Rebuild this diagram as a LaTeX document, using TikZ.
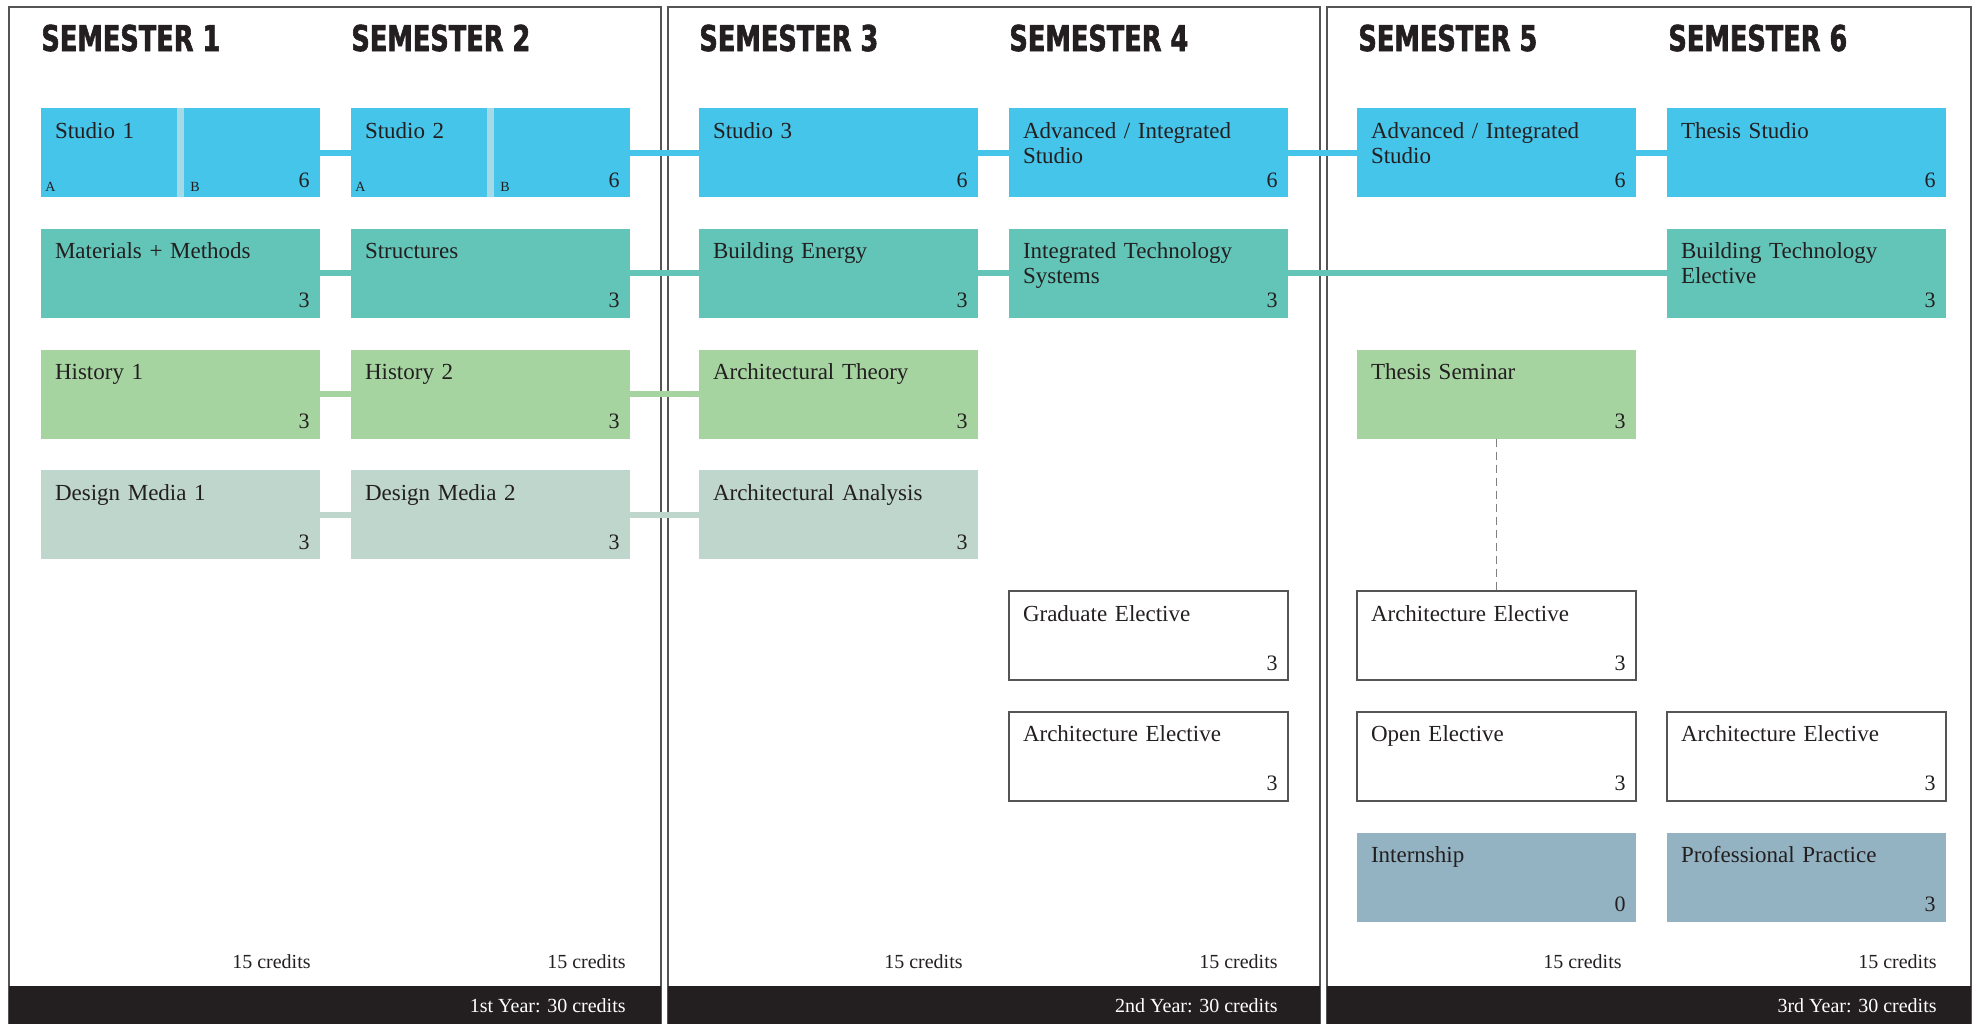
\documentclass[tikz,border=0pt]{standalone}
\usepackage{fontspec}
\setmainfont{Liberation Serif}
\newfontfamily\headfont{DejaVu Sans}[FakeStretch=0.72, BoldFeatures={FakeBold=1.6}]
\usetikzlibrary{positioning}

\definecolor{ink}{HTML}{231F20}
\definecolor{frame}{HTML}{555555}
\definecolor{studio}{HTML}{45C5EA}
\definecolor{stripe}{HTML}{A6DAE6}
\definecolor{tech}{HTML}{62C5B8}
\definecolor{hist}{HTML}{A6D4A1}
\definecolor{media}{HTML}{BFD6CD}
\definecolor{prof}{HTML}{93B2C2}

\tikzset{
  course/.style={rectangle, inner xsep=7pt, inner ysep=0pt, outer sep=0pt,
    text width=125.5pt, text height=15pt, text depth=29.5pt, align=left,
    text=ink, font=\fontsize{11.5}{12.5}\selectfont},
  credit/.style={anchor=base east, inner sep=0pt, xshift=-5pt, yshift=5pt,
    text width={}, text height={}, text depth={}, text=ink,
    font=\fontsize{11}{12}\selectfont},
  cr/.style={label={[credit]south east:#1}},
  elective/.style={draw=frame, line width=0.75pt, fill=white},
  head/.style={anchor=base west, inner sep=0pt, text=ink,
    font=\headfont\bfseries\fontsize{17.8}{20}\selectfont},
  total/.style={anchor=base east, inner sep=0pt, text=ink,
    font=\fontsize{10}{12}\selectfont},
  year/.style={anchor=base east, inner sep=0pt, text=white,
    font=\fontsize{10}{12}\selectfont},
  half/.style={anchor=base west, inner sep=0pt, text=ink,
    font=\fontsize{7}{8}\selectfont},
  panel/.style={draw=frame, line width=0.75pt},
  link/.style={line width=3pt},
  dashline/.style={draw=gray, line width=0.75pt, dash pattern=on 4pt off 2.5pt}
}

\begin{document}
\begin{tikzpicture}[x=0.5pt, y=-0.5pt, node distance=60.375pt and 155pt, on grid]
  \useasboundingbox (0,0) rectangle (1980,1024);

  % year panels
  \draw[panel] (9,1024) -- (9,7) -- (661,7) -- (661,1024);
  \draw[panel] (668,1024) -- (668,7) -- (1320,7) -- (1320,1024);
  \draw[panel] (1327,1024) -- (1327,7) -- (1971,7) -- (1971,1024);
  \fill[ink] (9,986) rectangle (661,1024);
  \fill[ink] (668,986) rectangle (1320,1024);
  \fill[ink] (1327,986) rectangle (1971,1024);

  \node[head] (hd1) at (41,51) {SEMESTER 1};
  \node[head] (hd2) at (351,51) {SEMESTER 2};
  \node[head] (hd3) at (699,51) {SEMESTER 3};
  \node[head] (hd4) at (1009,51) {SEMESTER 4};
  \node[head] (hd5) at (1358,51) {SEMESTER 5};
  \node[head] (hd6) at (1668,51) {SEMESTER 6};

  % semester 1 and 2
  \node[course, fill=studio, cr=6] (s1) at (180.5,152.5) {Studio 1};
  \node[course, fill=tech, cr=3] (mm1) [below=of s1] {Materials + Methods};
  \node[course, fill=hist, cr=3] (h1) [below=of mm1] {History 1};
  \node[course, fill=media, cr=3] (dm1) [below=of h1] {Design Media 1};
  \node[course, fill=studio, cr=6] (s2) [right=of s1] {Studio 2};
  \node[course, fill=tech, cr=3] (st2) [right=of mm1] {Structures};
  \node[course, fill=hist, cr=3] (h2) [right=of h1] {History 2};
  \node[course, fill=media, cr=3] (dm2) [right=of dm1] {Design Media 2};

  % semester 3 and 4
  \node[course, fill=studio, cr=6] (s3) [right=174pt of s2] {Studio 3};
  \node[course, fill=tech, cr=3] (be3) [below=of s3] {Building Energy};
  \node[course, fill=hist, cr=3] (th3) [below=of be3] {Architectural Theory};
  \node[course, fill=media, cr=3] (aa3) [below=of th3] {Architectural Analysis};
  \node[course, fill=studio, cr=6] (s4) [right=of s3] {Advanced / Integrated\\Studio};
  \node[course, fill=tech, cr=3] (its4) [below=of s4] {Integrated Technology\\Systems};
  \node[course, elective, cr=3] (ge4) [below=181.125pt of its4] {Graduate Elective};
  \node[course, elective, cr=3] (ae4) [below=of ge4] {Architecture Elective};

  % semester 5 and 6
  \node[course, fill=studio, cr=6] (s5) [right=174pt of s4] {Advanced / Integrated\\Studio};
  \node[course, fill=hist, cr=3] (ts5) [below=120.75pt of s5] {Thesis Seminar};
  \node[course, elective, cr=3] (ae5) [right=174pt of ge4] {Architecture Elective};
  \node[course, elective, cr=3] (oe5) [below=of ae5] {Open Elective};
  \node[course, fill=prof, cr=0] (in5) [below=of oe5] {Internship};
  \node[course, fill=studio, cr=6] (s6) [right=of s5] {Thesis Studio};
  \node[course, fill=tech, cr=3] (bte6) [below=of s6] {Building Technology\\Elective};
  \node[course, elective, cr=3] (ae6) [right=of oe5] {Architecture Elective};
  \node[course, fill=prof, cr=3] (pp6) [right=of in5] {Professional Practice};

  % studio halves
  \fill[stripe] ([xshift=-1.75pt]s1.north) rectangle ([xshift=1.75pt]s1.south);
  \fill[stripe] ([xshift=-1.75pt]s2.north) rectangle ([xshift=1.75pt]s2.south);
  \node[half] (s1a) at ([shift={(2pt,3pt)}]s1.south west) {A};
  \node[half] (s1b) at ([shift={(4.75pt,3pt)}]s1.south) {B};
  \node[half] (s2a) at ([shift={(2pt,3pt)}]s2.south west) {A};
  \node[half] (s2b) at ([shift={(4.75pt,3pt)}]s2.south) {B};

  % sequences
  \path[link]
    (s1) edge[draw=studio] (s2)
    (s2) edge[draw=studio] (s3)
    (s3) edge[draw=studio] (s4)
    (s4) edge[draw=studio] (s5)
    (s5) edge[draw=studio] (s6)
    (mm1) edge[draw=tech] (st2)
    (st2) edge[draw=tech] (be3)
    (be3) edge[draw=tech] (its4)
    (its4) edge[draw=tech] (bte6)
    (h1) edge[draw=hist] (h2)
    (h2) edge[draw=hist] (th3)
    (dm1) edge[draw=media] (dm2)
    (dm2) edge[draw=media] (aa3);
  \draw[dashline] (ts5) -- (ae5);

  % totals
  \node[total] (t1) at (311,968) {15 credits};
  \node[total] (t2) at (626,968) {15 credits};
  \node[total] (t3) at (963,968) {15 credits};
  \node[total] (t4) at (1278,968) {15 credits};
  \node[total] (t5) at (1622,968) {15 credits};
  \node[total] (t6) at (1937,968) {15 credits};
  \node[year] (y1) at (626,1012) {1st Year: 30 credits};
  \node[year] (y2) at (1278,1012) {2nd Year: 30 credits};
  \node[year] (y3) at (1937,1012) {3rd Year: 30 credits};
\end{tikzpicture}
\end{document}
